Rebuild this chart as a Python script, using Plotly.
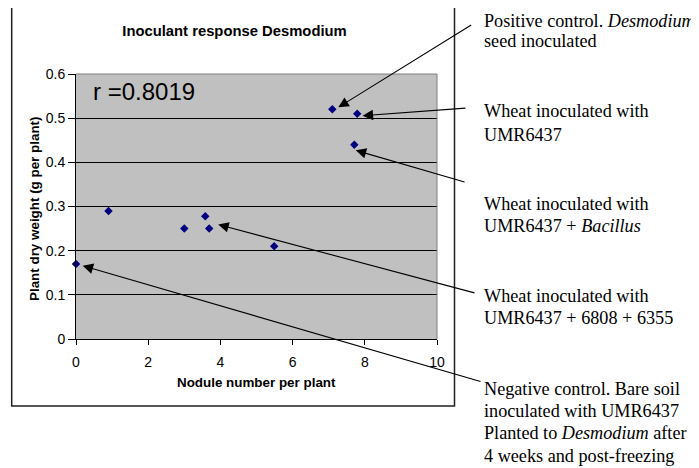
import plotly.graph_objects as go

# data
nodules = [0, 0.9, 3.0, 3.58, 3.69, 5.49, 7.1, 7.71, 7.79]
dry_weight = [0.17, 0.29, 0.25, 0.278, 0.25, 0.21, 0.52, 0.44, 0.51]
x_ticks = [0, 2, 4, 6, 8, 10]
y_ticks = [0, 0.1, 0.2, 0.3, 0.4, 0.5, 0.6]
r_label = "r =0.8019"

# callouts: which point they point at, and their text lines
callout_points = [6, 8, 7, 4, 0]
callout_lines = [
    ["Positive control. <i>Desmodium</i>", "seed inoculated"],
    ["Wheat inoculated with", "UMR6437"],
    ["Wheat inoculated with", "UMR6437 + <i>Bacillus</i>"],
    ["Wheat inoculated with", "UMR6437 + 6808 + 6355"],
    ["Negative control. Bare soil", "inoculated with UMR6437",
     "Planted to <i>Desmodium</i> after", "4 weeks and post-freezing"],
]

PAGE = 8  # browser body margin
W, H = 699 - PAGE, 468 - PAGE
L, R, T, B = 76, 437, 74, 339  # plot area in window pixels


def px(xp, yp):
    return (xp - L) / (R - L), (B - yp) / (B - T)


SANS = "Liberation Sans, Arial, sans-serif"
SERIF = "Liberation Serif, Times New Roman, serif"

fig = go.Figure()
fig.add_trace(go.Scatter(
    x=nodules, y=dry_weight, mode="markers",
    marker=dict(symbol="diamond", size=6.5, color="#000080"),
    cliponaxis=False, showlegend=False,
))

# arrow geometry: head shift from point, tail offset from head (pixels)
head_shift = [(6, 2), (5.4, -2), (1.4, -5.7), (9, 4), (6.7, -1.8)]
tail_offset = [(134.4, -83.3), (104.3, -7.7), (110.3, 32), (257.7, 68.7), (399.3, 116.3)]

annotations = []
for i, idx in enumerate(callout_points):
    annotations.append(dict(
        x=nodules[idx], y=dry_weight[idx], xref="x", yref="y",
        xshift=head_shift[i][0], yshift=head_shift[i][1],
        ax=tail_offset[i][0], ay=tail_offset[i][1],
        text="", showarrow=True, arrowhead=2, arrowsize=1.9,
        arrowwidth=1.1, arrowcolor="black", standoff=0, startstandoff=0,
    ))

baselines = [[26.7, 46.7], [116.7, 140], [209.3, 231.7], [301.7, 323.3],
             [394, 416.4, 438.8, 461.2]]
fs_note = 18.2
for lines, bls in zip(callout_lines, baselines):
    for line, bl in zip(lines, bls):
        xp, yp = px(481.5, bl - 0.3 * fs_note)
        annotations.append(dict(
            x=xp, y=yp, xref="paper", yref="paper", text=line,
            showarrow=False, xanchor="left", yanchor="middle",
            font=dict(family=SERIF, size=fs_note, color="black"),
        ))

# r value
xp, yp = px(90.7, 91.5)
annotations.append(dict(x=xp, y=yp, xref="paper", yref="paper", text=r_label,
                        showarrow=False, xanchor="left", yanchor="middle",
                        font=dict(family=SANS, size=24, color="black")))
# axis titles
xp, yp = px(34, 209)
annotations.append(dict(x=xp, y=yp, xref="paper", yref="paper",
                        text="<b>Plant dry weight (g per plant)</b>", textangle=-90,
                        showarrow=False, xanchor="center", yanchor="middle",
                        font=dict(family=SANS, size=13.4, color="black")))
xp, yp = px(256.8, 382.7)
annotations.append(dict(x=xp, y=yp, xref="paper", yref="paper",
                        text="<b>Nodule number per plant</b>",
                        showarrow=False, xanchor="center", yanchor="middle",
                        font=dict(family=SANS, size=13.4, color="black")))

bx0, by1 = px(11.7, 7.3)
bx1, by0 = px(454.5, 406)
shapes = [
    dict(type="rect", xref="paper", yref="paper", x0=bx0, x1=bx1, y0=by0, y1=by1,
         line=dict(color="#202020", width=1.5), layer="below"),
    dict(type="line", xref="paper", yref="paper", x0=0, x1=1, y0=1, y1=1,
         line=dict(color="#808080", width=1), layer="above"),
    dict(type="line", xref="paper", yref="paper", x0=1, x1=1, y0=0, y1=1,
         line=dict(color="#808080", width=1), layer="above"),
]

fig.update_layout(
    width=W, height=H,
    margin=dict(l=L - PAGE, r=699 - R, t=T - PAGE, b=468 - B),
    paper_bgcolor="white", plot_bgcolor="#C0C0C0",
    font=dict(family=SANS, size=14, color="black"),
    title=dict(text="<b>Inoculant response Desmodium</b>",
               x=px(234.5, 0)[0], xref="paper", xanchor="center",
               y=1 - (30.7 - PAGE) / H, yref="container", yanchor="middle",
               font=dict(family=SANS, size=14.8, color="black")),
    annotations=annotations, shapes=shapes,
)
fig.update_xaxes(range=[0, 10], tickvals=x_ticks, showgrid=False, zeroline=False,
                 showline=True, linecolor="black", linewidth=1,
                 ticks="outside", ticklen=5, tickcolor="black",
                 ticklabelstandoff=5, tickfont=dict(size=14))
fig.update_yaxes(range=[0, 0.6], tickvals=y_ticks, showgrid=True, gridcolor="black",
                 gridwidth=1, zeroline=False, showline=True, linecolor="black",
                 linewidth=1, ticks="outside", ticklen=7, tickcolor="black",
                 tickfont=dict(size=14))

fig.write_html("out.html")
